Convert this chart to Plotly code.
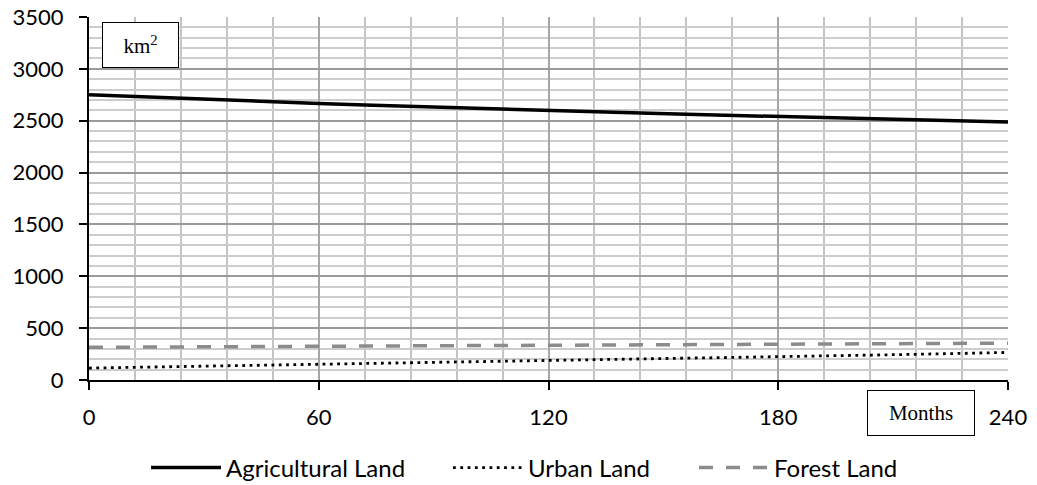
import plotly.graph_objects as go

# months since start and land area (km2)
months = [0, 12, 24, 36, 48, 60, 72, 84, 96, 108, 120,
          132, 144, 156, 168, 180, 192, 204, 216, 228, 240]
agricultural = [2750, 2732, 2714, 2697, 2681, 2666, 2651, 2637, 2624, 2611, 2598,
                2586, 2574, 2562, 2551, 2540, 2529, 2518, 2508, 2498, 2488]
urban = [115, 122, 129, 136, 143, 150, 157, 164, 171, 178, 186,
         193, 201, 208, 216, 224, 232, 240, 248, 256, 266]
forest = [315, 317, 319, 321, 323, 325, 327, 329, 331, 333, 335,
          337, 339, 341, 343, 345, 347, 349, 351, 353, 355]

x_ticks = [0, 60, 120, 180, 240]
y_ticks = [0, 500, 1000, 1500, 2000, 2500, 3000, 3500]

W, H = 1037, 485
L, R, T, B = 89, 29, 17, 105
pw, ph = W - L - R, H - T - B

fig = go.Figure()
fig.add_trace(go.Scatter(x=months, y=agricultural, mode="lines", name="Agricultural Land",
                         legend="legend", line=dict(color="black", width=3.5)))
fig.add_trace(go.Scatter(x=months, y=urban, mode="lines", name="Urban Land",
                         legend="legend2",
                         line=dict(color="black", width=2.8, dash="2.8px,4.5px")))
fig.add_trace(go.Scatter(x=months, y=forest, mode="lines", name="Forest Land",
                         legend="legend3",
                         line=dict(color="#8c8c8c", width=3.5, dash="14px,13px")))

fig.update_xaxes(
    range=[0, 240], tickvals=x_ticks, showline=True, linecolor="black", linewidth=2,
    ticks="outside", ticklen=8, tickcolor="black", tickwidth=2, ticklabelstandoff=9,
    showgrid=True, gridcolor="#a6a6a6", gridwidth=2, zeroline=False, automargin=False,
    minor=dict(dtick=12, showgrid=True, gridcolor="#c4c4c4", gridwidth=2, ticks=""),
)
fig.update_yaxes(
    range=[0, 3500], tickvals=y_ticks, showline=True, linecolor="black", linewidth=2,
    ticks="outside", ticklen=8, tickcolor="black", tickwidth=2, ticklabelstandoff=11,
    showgrid=True, gridcolor="#9a9a9a", gridwidth=2, zeroline=False, automargin=False,
    minor=dict(dtick=100, showgrid=True, gridcolor="#cdcdcd", gridwidth=2, ticks=""),
)

fig.add_annotation(xref="paper", yref="paper", x=(140 - L) / pw, y=(H - B - 45) / ph,
                   xanchor="center", yanchor="middle",
                   text="km<sup>2</sup>", showarrow=False, width=73, height=42,
                   bordercolor="black", borderwidth=1, bgcolor="white",
                   font=dict(family="Liberation Serif", size=21, color="black"))
fig.add_annotation(xref="paper", yref="paper", x=(921 - L) / pw, y=(H - B - 413) / ph,
                   xanchor="center", yanchor="middle",
                   text="Months", showarrow=False, width=104, height=42,
                   bordercolor="black", borderwidth=1, bgcolor="white",
                   font=dict(family="Liberation Serif", size=21, color="black"))

legend_style = dict(orientation="h", xref="container", yref="container", xanchor="left",
                    y=1 - 468 / H, yanchor="middle", itemwidth=70,
                    font=dict(size=24), bgcolor="rgba(0,0,0,0)")

fig.update_layout(
    width=W, height=H,
    margin=dict(l=L, r=R, t=T, b=B),
    plot_bgcolor="white", paper_bgcolor="white",
    font=dict(family="Lato", size=22, color="black"),
    showlegend=True,
    legend=dict(legend_style, x=(153 - 7) / W),
    legend2=dict(legend_style, x=(455 - 7) / W),
    legend3=dict(legend_style, x=(701 - 7) / W),
)

# drop the page's default body margin so the figure sits at the window's corner
fig.write_html("out.html", config={"displayModeBar": False},
               post_script="document.body.style.margin='0';")
